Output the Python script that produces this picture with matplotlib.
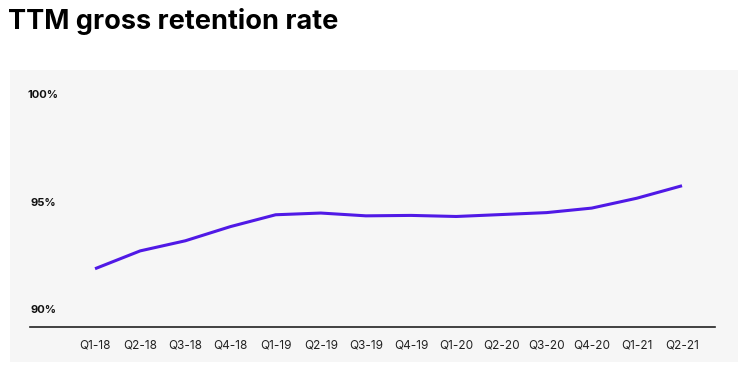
import matplotlib
matplotlib.use("Agg")
import matplotlib.pyplot as plt
from matplotlib.patches import Rectangle
from matplotlib.transforms import blended_transform_factory

# Data
quarters = ["Q1-18", "Q2-18", "Q3-18", "Q4-18", "Q1-19", "Q2-19", "Q3-19",
            "Q4-19", "Q1-20", "Q2-20", "Q3-20", "Q4-20", "Q1-21", "Q2-21"]
retention = [91.92, 92.75, 93.22, 93.88, 94.43, 94.51, 94.38,
             94.40, 94.35, 94.44, 94.53, 94.74, 95.20, 95.78]
y_ticks = [90, 95, 100]
y_tick_labels = ["90%", "95%", "100%"]

W, H = 740, 370
fig = plt.figure(figsize=(W / 100, H / 100), dpi=100)
fig.patch.set_facecolor("white")

# grey panel behind the chart
fig.patches.append(Rectangle((10 / W, 1 - 362 / H), 728 / W, 292 / H,
                             transform=fig.transFigure, facecolor="#f6f6f6",
                             edgecolor="none", zorder=-5))

fig.text(8 / W, 1 - 29 / H, "TTM gross retention rate", fontsize=19.5,
         fontweight="bold", family="Inter", color="black", va="baseline")

ax_left, ax_right, ax_top, ax_bottom = 30, 715, 95, 327
ax = fig.add_axes([ax_left / W, 1 - ax_bottom / H,
                   (ax_right - ax_left) / W, (ax_bottom - ax_top) / H])
ax.set_facecolor("none")
ax.set_zorder(2)

x = list(range(len(quarters)))
ax.plot(x, retention, color="#5019e6", linewidth=2.2, solid_capstyle="butt")

ax.set_xlim(-1.44, 13.73)
ax.set_ylim(89.21, 100)

for s in ["top", "right", "left"]:
    ax.spines[s].set_visible(False)
ax.spines["bottom"].set_color("#222222")
ax.spines["bottom"].set_linewidth(1.2)

ax.set_xticks(x)
ax.set_xticklabels(quarters, fontsize=8.5, family="Inter", color="#222222")
ax.tick_params(axis="x", length=0, pad=9)
ax.set_yticks([])

tr = blended_transform_factory(ax.transAxes, ax.transData)
for v, lab in zip(y_ticks, y_tick_labels):
    ax.text((43.5 - ax_left) / (ax_right - ax_left), v, lab, transform=tr,
            ha="center", va="center", fontsize=8, fontweight="bold",
            family="Inter", color="#111111")

fig.savefig("out.png", dpi=100)
